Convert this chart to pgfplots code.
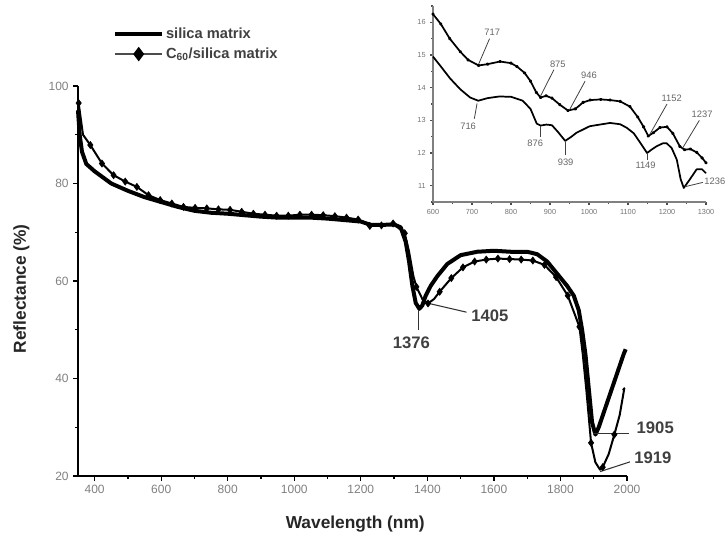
\documentclass[border=0pt]{standalone}
\usepackage{fontspec}
\setmainfont{Liberation Sans}
\usepackage{pgfplots}
\pgfplotsset{compat=1.18}
\begin{document}
\begin{tikzpicture}
\useasboundingbox (0pt,0pt) rectangle (543.75pt,401.25pt);
\begin{axis}[
  at={(58.5pt,44.25pt)}, anchor=south west,
  width=411.75pt, height=292.5pt, scale only axis,
  xmin=350, xmax=2000, ymin=20, ymax=100,
  axis x line*=bottom, axis y line*=left,
  xtick={400,600,...,2000}, minor xtick={500,700,...,1900},
  ytick={20,40,...,100}, minor ytick={30,50,70,90},
  tick align=outside, major tick length=3.5pt, minor tick length=2.2pt,
  tick style={black, line width=1pt},
  axis line style={line width=1.2pt, black},
  /pgf/number format/assume math mode=true,
  /pgf/number format/1000 sep={},
  ticklabel style={font=\fontsize{9}{10}\selectfont, text=black!50},
  xlabel={Wavelength (nm)}, ylabel={Reflectance (\%)},
  label style={font=\bfseries\fontsize{13}{14}\selectfont, text=black!85},
  xlabel style={at={(axis description cs:0.505,-0.122)}, anchor=center},
  ylabel style={at={(axis description cs:-0.103,0.48)}, anchor=center},
  legend image code/.code={\draw[mark repeat=2,mark phase=2,#1] plot coordinates {(0pt,0pt) (17.5pt,0pt) (35pt,0pt)};},
  legend style={at={(axis description cs:0.064,1.155)}, anchor=north west, draw=none, fill=none, inner sep=0pt,
    font=\bfseries\fontsize{11}{12}\selectfont, text=black!75, row sep=2.5pt,
    nodes={inner sep=1.5pt}},
  legend cell align=left,
  clip=false,
]
\addlegendimage{line width=3pt, black}
\addlegendentry{silica matrix}
\addlegendimage{line width=1.8pt, black!70, mark=diamond*, mark size=4pt, mark options={black, solid}}
\addlegendentry{C\textsubscript{60}/silica matrix}

% silica matrix
\addplot[line width=3pt, black, line join=round, forget plot] coordinates {
(350,95) (355,90) (362,86.5) (375,84) (400,82.5) (450,80) (500,78.5) (550,77.2)
(600,76.2) (650,75.2) (700,74.4) (750,74) (800,73.8) (850,73.5) (900,73.2) (950,73)
(1000,73) (1050,73) (1100,72.8) (1150,72.5) (1200,72.2) (1230,71.5) (1260,71.5) (1300,71.6)
(1320,71) (1335,68) (1345,64) (1355,59) (1365,55.5) (1376,54.3) (1385,55) (1395,57)
(1410,59) (1430,61) (1460,63.5) (1500,65.3) (1550,66) (1600,66.2) (1650,66) (1700,66)
(1730,65.5) (1760,64) (1790,61.5) (1820,59) (1840,57) (1855,54) (1865,50) (1875,45)
(1885,38) (1895,31) (1905,28.5) (1915,30) (1930,33) (1950,37) (1970,41) (1990,45) (1996,46)
};
% C60/silica matrix line
\addplot[line width=1.5pt, black, line join=round, forget plot] coordinates {
(352,96.5) (365,90) (387,87.9) (422,84.1) (457,81.7) (492,80.4) (527,79.3) (562,77.6)
(597,76.6) (632,75.9) (667,75.2) (702,75.0) (737,74.9) (772,74.7) (807,74.6) (842,74.2)
(877,73.8) (912,73.6) (947,73.4) (982,73.4) (1017,73.6) (1052,73.6) (1087,73.5) (1122,73.3)
(1157,73.0) (1192,72.6) (1227,71.3) (1262,71.4) (1297,71.8) (1332,69.8) (1345,66) (1358,61)
(1367,58.8) (1385,56.3) (1402,55.4) (1420,56.3) (1437,57.8) (1472,60.6) (1507,62.8) (1542,64)
(1577,64.4) (1612,64.6) (1647,64.5) (1682,64.4) (1717,64.2) (1752,63.3) (1787,60.8) (1822,57)
(1857,50.6) (1867,45) (1878,37.5) (1892,26.8) (1905,22.8) (1919,21.3) (1927,21.8) (1945,24.5)
(1962,28.5) (1978,32.5) (1992,38) (1988,37.6)
};
% C60 markers
\addplot[only marks, mark=diamond*, mark size=2.7pt, black, forget plot] coordinates {
(352,96.5) (387,87.9) (422,84.1) (457,81.7) (492,80.4) (527,79.3) (562,77.6)
(597,76.6) (632,75.9) (667,75.2) (702,75.0) (737,74.9) (772,74.7) (807,74.6) (842,74.2)
(877,73.8) (912,73.6) (947,73.4) (982,73.4) (1017,73.6) (1052,73.6) (1087,73.5) (1122,73.3)
(1157,73.0) (1192,72.6) (1227,71.3) (1262,71.4) (1297,71.8) (1332,69.8) (1367,58.8) (1402,55.4)
(1437,57.8) (1472,60.6) (1507,62.8) (1542,64) (1577,64.4) (1612,64.6) (1647,64.5) (1682,64.4)
(1717,64.2) (1752,63.3) (1787,60.8) (1822,57) (1857,50.6) (1892,26.8) (1927,21.8) (1962,28.5)
};
% annotations
\begin{scope}[every node/.style={font=\bfseries\fontsize{12.5}{13}\selectfont, text=black!75}]
\draw[black!80, line width=0.8pt] (axis cs:1373,54) -- (axis cs:1373,50);
\node at (axis cs:1352,47.3) {1376};
\draw[black!80, line width=0.8pt] (axis cs:1398,55.5) -- (axis cs:1518,53.6);
\node[anchor=west] at (axis cs:1518,52.9) {1405};
\draw[black!80, line width=0.8pt] (axis cs:1899,28.8) -- (axis cs:2005,28.8);
\node[anchor=west] at (axis cs:2015,29.8) {1905};
\draw[black!80, line width=0.8pt] (axis cs:1919,20.9) -- (axis cs:2009,22.9);
\node[anchor=west] at (axis cs:2008,23.7) {1919};
\end{scope}
\end{axis}

% inset
\begin{axis}[
  at={(324.75pt,249.75pt)}, anchor=south west,
  width=204.75pt, height=147pt, scale only axis,
  xmin=600, xmax=1300, ymin=10.5, ymax=16.5,
  axis x line*=bottom, axis y line*=left,
  xtick={600,700,...,1300}, minor xtick={650,750,...,1250},
  ytick={11,...,16}, minor ytick={10.5,11.5,...,16.5},
  tick align=outside, major tick length=2pt, minor tick length=1.3pt,
  axis line style={black!50, line width=1pt},
  tick style={black!70, line width=0.8pt},
  /pgf/number format/assume math mode=true,
  /pgf/number format/1000 sep={},
  ticklabel style={font=\fontsize{5.5}{6}\selectfont, text=black!55},
  clip=false,
]
% C60/silica (upper)
\addplot[line width=1.3pt, black, line join=round, mark=*, mark size=0.6pt] coordinates {
(600,16.25) (620,15.95) (643,15.5) (670,15.1) (690,14.85) (717,14.68) (740,14.72) (772,14.8)
(800,14.75) (815,14.65) (835,14.45) (850,14.2) (865,13.85) (876,13.7) (890,13.75) (905,13.68)
(925,13.48) (946,13.3) (965,13.35) (985,13.55) (1003,13.62) (1030,13.64) (1054,13.62) (1080,13.58)
(1105,13.42) (1125,13.1) (1140,12.8) (1152,12.52) (1165,12.62) (1182,12.78) (1200,12.8) (1215,12.6)
(1233,12.2) (1245,12.1) (1260,12.12) (1276,12.02) (1290,11.85) (1300,11.7)
};
% silica (lower)
\addplot[line width=1.3pt, black, line join=round] coordinates {
(600,14.95) (620,14.65) (644,14.28) (670,13.95) (695,13.7) (716,13.6) (740,13.68) (770,13.73)
(800,13.72) (830,13.6) (850,13.35) (866,12.9) (876,12.84) (891,12.87) (905,12.85) (920,12.65)
(939,12.37) (955,12.5) (968,12.62) (1002,12.82) (1054,12.92) (1080,12.88) (1097,12.77) (1115,12.6)
(1131,12.32) (1149,12.0) (1160,12.1) (1174,12.21) (1190,12.3) (1199,12.3) (1212,12.15) (1225,11.8)
(1235,11.2) (1243,10.93) (1259,11.2) (1276,11.5) (1290,11.5) (1300,11.38)
};
\begin{scope}[every node/.style={font=\fontsize{7}{8}\selectfont, text=black!60, inner sep=1pt}]
\draw[black!75, line width=0.6pt] (axis cs:745,15.5) -- (axis cs:717,14.72);
\node at (axis cs:752,15.68) {717};
\draw[black!75, line width=0.6pt] (axis cs:910,14.55) -- (axis cs:876,13.75);
\node at (axis cs:920,14.72) {875};
\draw[black!75, line width=0.6pt] (axis cs:990,14.2) -- (axis cs:950,13.32);
\node at (axis cs:1000,14.38) {946};
\draw[black!75, line width=0.6pt] (axis cs:1200,13.5) -- (axis cs:1155,12.55);
\node at (axis cs:1212,13.68) {1152};
\draw[black!75, line width=0.6pt] (axis cs:1283,13.0) -- (axis cs:1240,12.15);
\node at (axis cs:1290,13.18) {1237};
\draw[black!75, line width=0.6pt] (axis cs:713,13.52) -- (axis cs:706,13.05);
\node at (axis cs:690,12.82) {716};
\draw[black!75, line width=0.6pt] (axis cs:876,12.82) -- (axis cs:876,12.48);
\node at (axis cs:862,12.3) {876};
\draw[black!75, line width=0.6pt] (axis cs:939,12.35) -- (axis cs:939,11.95);
\node at (axis cs:940,11.72) {939};
\draw[black!75, line width=0.6pt] (axis cs:1149,12.0) -- (axis cs:1149,11.8);
\node at (axis cs:1145,11.62) {1149};
\draw[black!75, line width=0.6pt] (axis cs:1247,10.97) -- (axis cs:1292,11.1);
\node[anchor=west] at (axis cs:1292,11.12) {1236};
\end{scope}
\end{axis}
\end{tikzpicture}
\end{document}
